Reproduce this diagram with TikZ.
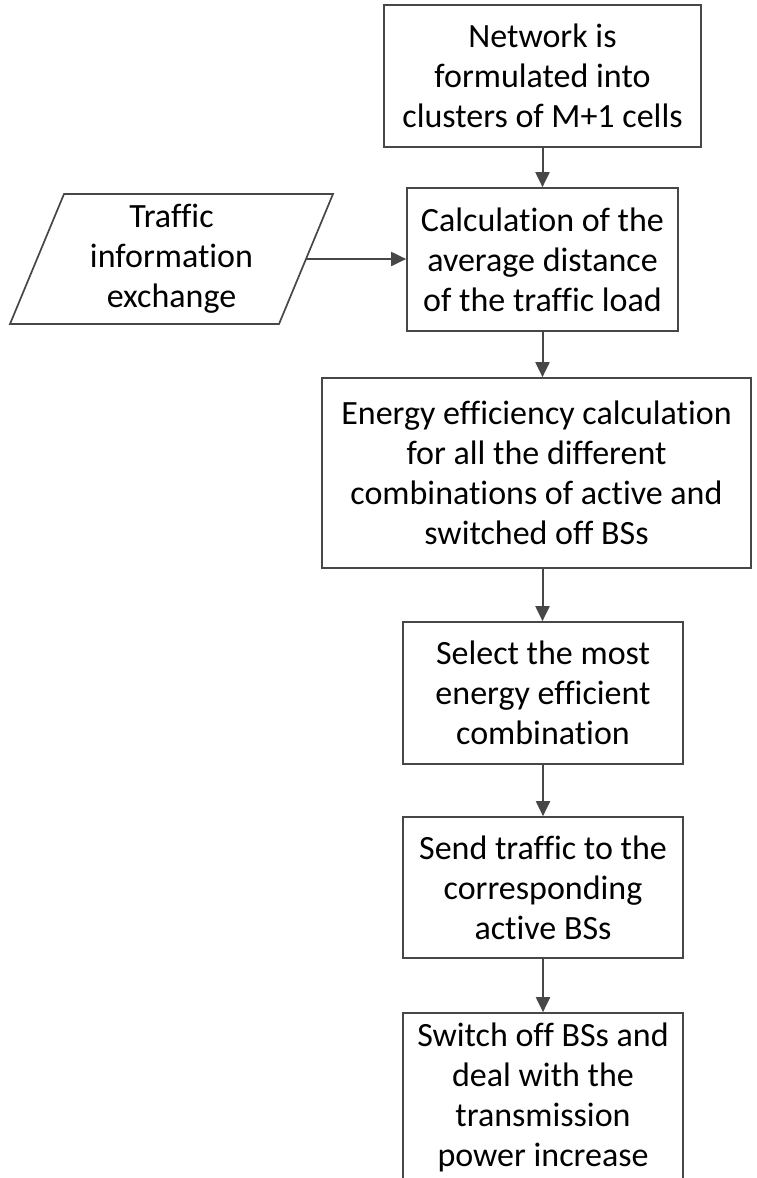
\documentclass[tikz,border=0pt]{standalone}
\usepackage{fontspec}
\setmainfont{Carlito}[Ligatures={NoCommon}]
\usetikzlibrary{arrows.meta}
\definecolor{edge}{HTML}{474747}
\tikzset{
  stepbox/.style={draw=edge, line width=1.7pt, rectangle, inner sep=0pt,
    align=center, font=\fontsize{34}{40}\selectfont},
  flow/.style={draw=edge, line width=2pt,
    -{Triangle[length=15pt,width=14pt]}},
}
\begin{document}
\begin{tikzpicture}[x=1pt,y=-1pt]
\useasboundingbox (0,0) rectangle (756,1178);
\clip (0,0) rectangle (756,1178);

\node[stepbox, minimum width=317pt, minimum height=142pt] (net) at (542.5,76)
  {Network is\\formulated into\\clusters of M+1 cells};
\node[stepbox, minimum width=271pt, minimum height=143pt] (avg) at (542.5,259.5)
  {Calculation of the\\average distance\\of the traffic load};
\node[stepbox, minimum width=429pt, minimum height=190pt] (eff) at (536.5,473)
  {Energy efficiency calculation\\for all the different\\combinations of active and\\switched off BSs};
\node[stepbox, minimum width=280pt, minimum height=142pt] (sel) at (543,693)
  {Select the most\\energy efficient\\combination};
\node[stepbox, minimum width=280pt, minimum height=141pt] (send) at (543,887.5)
  {Send traffic to the\\corresponding\\active BSs};
\node[stepbox, minimum width=280pt, minimum height=168pt] (off) at (543,1097)
  {Switch off BSs and\\deal with the\\transmission\\power increase};

% input parallelogram
\draw[draw=edge, line width=1.7pt] (64,194) -- (333,194) -- (279,324) -- (10,324) -- cycle;
\node[align=center, inner sep=0pt, font=\fontsize{34}{40}\selectfont] (traf) at (171.5,259)
  {Traffic\\information\\exchange};
\coordinate (trafout) at (306,259);

% connectors
\draw[flow] (net.south) -- (net.south |- avg.north);
\draw[flow] (trafout) -- (trafout -| avg.west);
\draw[flow] (avg.south) -- (avg.south |- eff.north);
\draw[flow] (eff.north -| avg.south) ++(0,190) coordinate (effout) -- (effout |- sel.north);
\draw[flow] (sel.south) -- (sel.south |- send.north);
\draw[flow] (send.south) -- (send.south |- off.north);
\end{tikzpicture}
\end{document}
